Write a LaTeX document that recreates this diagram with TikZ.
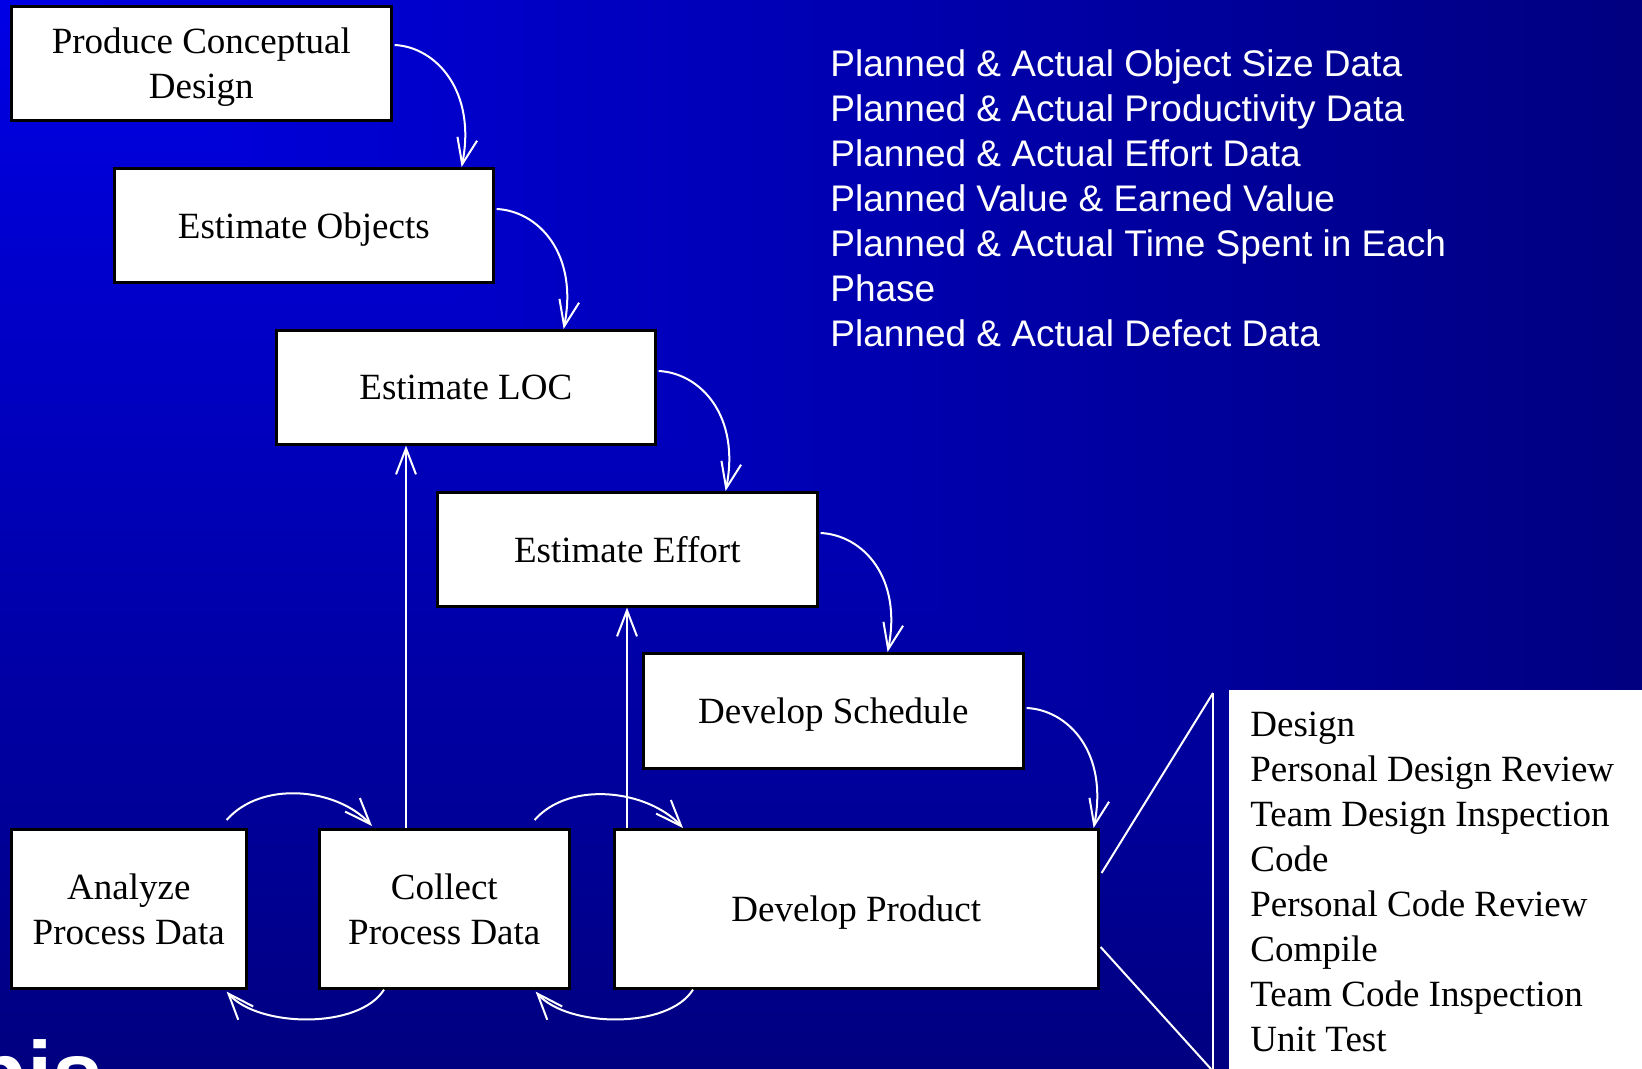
\documentclass[tikz,border=0pt]{standalone}
\usepackage{fontspec}
\setmainfont{Liberation Serif}
\newfontfamily\listfont{Liberation Sans}
\usetikzlibrary{arrows.meta,calc}
\definecolor{bgbright}{RGB}{0,0,230}
\definecolor{bgnavy}{RGB}{0,0,128}
\newcommand\boxfont{\fontsize{18.5}{22.5}\selectfont}
\newcommand\sansfont{\listfont\fontsize{18.5}{22.5}\selectfont}
\begin{document}
\begin{tikzpicture}[x=0.5pt,y=-0.5pt,
  box/.style={draw=black,line width=1.3pt,fill=white,inner sep=0pt,anchor=north west,align=center,font=\boxfont,text depth=0pt},
  arr/.style={draw=white,line width=1pt,-{Straight Barb[length=13pt,width=10pt]}},
  wline/.style={draw=white,line width=1pt},
  listline/.style={anchor=base west,inner sep=0pt,text=white,font=\sansfont},
  panelline/.style={anchor=base west,inner sep=0pt,text=black,font=\boxfont}]
\useasboundingbox (0,0) rectangle (1642,1069);
\clip (0,0) rectangle (1642,1069);
% background: gradient from the top-left corner
\shade[left color=bgbright,right color=bgnavy] (0,0) rectangle (1642,1069);
\shade[top color=bgbright,bottom color=bgnavy] (0,0) -- (0,1069) -- (1642,1069) -- cycle;

% partial title text at the bottom-left
\node[anchor=base west,inner sep=0pt,text=white,font=\listfont\bfseries\fontsize{45.5}{50}\selectfont] (title) at (-29,1105) {pis};

% boxes
\node[box,minimum width=190pt,minimum height=57pt] (pcd) at (10,5) {Produce Conceptual\\Design};
\node[box,minimum width=189.5pt,minimum height=57pt] (eo) at (113,167) {Estimate Objects};
\node[box,minimum width=189.5pt,minimum height=57pt] (loc) at (275,329) {Estimate LOC};
\node[box,minimum width=190pt,minimum height=57pt] (eff) at (436,491) {Estimate Effort};
\node[box,minimum width=190pt,minimum height=57.5pt] (sched) at (642,652) {Develop Schedule};
\node[box,minimum width=242pt,minimum height=79.5pt] (prod) at (613,828) {Develop Product};
\node[box,minimum width=125pt,minimum height=79.5pt] (coll) at (318,828) {Collect\\Process Data};
\node[box,minimum width=117.5pt,minimum height=79.5pt] (ana) at (10,828) {Analyze\\Process Data};

% curved arrows down the staircase
\coordinate (s1) at ($(pcd.north east)+(2,40)$);
\coordinate (x1) at ($(s1)+(67,0)$);
\draw[arr] (s1) .. controls +(42,2) and +(15,-75) .. (x1 |- eo.north);
\coordinate (s2) at ($(eo.north east)+(2,42)$);
\coordinate (x2) at ($(s2)+(67,0)$);
\draw[arr] (s2) .. controls +(42,2) and +(15,-75) .. (x2 |- loc.north);
\coordinate (s3) at ($(loc.north east)+(2,42)$);
\coordinate (x3) at ($(s3)+(67,0)$);
\draw[arr] (s3) .. controls +(42,2) and +(15,-75) .. (x3 |- eff.north);
\coordinate (s4) at ($(eff.north east)+(2,42)$);
\coordinate (x4) at ($(s4)+(67,0)$);
\draw[arr] (s4) .. controls +(42,2) and +(15,-75) .. (x4 |- sched.north);
\coordinate (s5) at ($(sched.north east)+(2,56)$);
\coordinate (x5) at ($(s5)+(67,0)$);
\draw[arr] (s5) .. controls +(42,2) and +(15,-75) .. (x5 |- prod.north);

% vertical feedback arrows
\coordinate (v1) at (406,0);
\coordinate (v2) at (627,0);
\draw[arr] (v1 |- coll.north) -- (v1 |- loc.south);
\draw[arr] (v2 |- prod.north) -- (v2 |- eff.south);

% loop arrows between bottom boxes
\draw[arr] ($(ana.north east)+(-21,-8)$) .. controls +(35,-40) and +(-35,-38) .. ($(coll.north west)+(54,-2)$);
\draw[arr] ($(coll.north east)+(-36,-8)$) .. controls +(35,-40) and +(-35,-38) .. ($(prod.north west)+(70,0)$);
\draw[arr] ($(coll.south west)+(66,0)$) .. controls +(-25,40) and +(32,36) .. ($(ana.south east)+(-21,2)$);
\draw[arr] ($(prod.south west)+(80,0)$) .. controls +(-25,40) and +(32,36) .. ($(coll.south east)+(-35,2)$);

% zoom-out connector to the phase list
\coordinate (zt) at (1213,693);
\coordinate (zb) at (1211,1069);
\coordinate (zv) at (1213,1069);
\draw[wline] ($(prod.north east)+(2,45)$) -- (zt);
\draw[wline] ($(prod.north east)+(1,119)$) -- (zb);
\draw[wline] (zt) -- (zv);
\node[fill=white,inner sep=0pt,outer sep=0pt,anchor=north west,minimum width=206.5pt,minimum height=189.5pt] (panel) at (1229,690) {};

\foreach \t [count=\i] in {Design,Personal Design Review,Team Design Inspection,Code,Personal Code Review,Compile,Team Code Inspection,Unit Test}
  \node[panelline] (ph\i) at (1250,{736.7+45*(\i-1)}) {\t};

\foreach \t [count=\i] in {Planned \& Actual Object Size Data,Planned \& Actual Productivity Data,Planned \& Actual Effort Data,Planned Value \& Earned Value,Planned \& Actual Time Spent in Each,Phase,Planned \& Actual Defect Data}
  \node[listline] (li\i) at (830,{76.7+45*(\i-1)}) {\t};
\end{tikzpicture}
\end{document}
